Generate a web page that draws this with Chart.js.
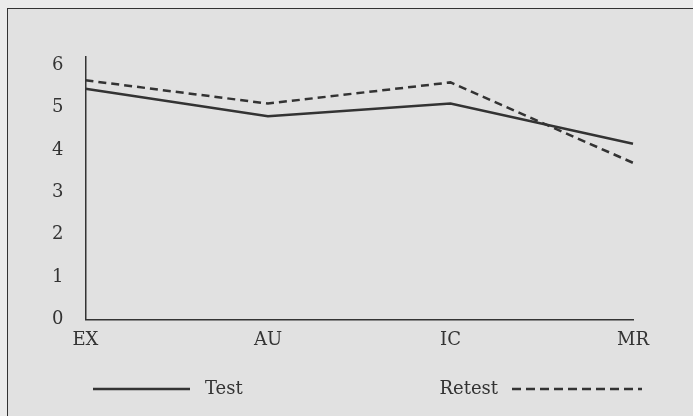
<!DOCTYPE html>
<html>
<head>
<meta charset="utf-8">
<script src="https://cdn.jsdelivr.net/npm/chart.js@4"></script>
<style>
    html, body { margin: 0; padding: 0; background: #ebebeb; }
    #frame {
        position: absolute; left: 7px; top: 8px; width: 700px; height: 420px;
        border-left: 1.5px solid #333; border-top: 1.5px solid #333;
        background: #e1e1e1;
    }
    #wrap { position: absolute; left: 0; top: 0; width: 693px; height: 416px; }
</style>
</head>
<body>
<div id="frame"></div>
<div id="wrap"><canvas id="line-chart"></canvas></div>
<script>
// Dữ liệu
const categories = ['EX', 'AU', 'IC', 'MR'];
const testValues = [5.45, 4.8, 5.1, 4.15];
const retestValues = [5.65, 5.1, 5.6, 3.7];
const yTicks = [0, 1, 2, 3, 4, 5, 6];

const ink = '#333333';
const fontFamily = '"DejaVu Serif", "Liberation Serif", serif';

// Chú thích tự vẽ: "Test" bên phải đường liền, "Retest" bên trái đường nét đứt
const customLegend = {
    id: 'customLegend',
    afterDraw(chart) {
        const ctx = chart.ctx;
        const y = 389;
        const sets = chart.data.datasets;
        ctx.save();
        ctx.font = '18px ' + fontFamily;
        ctx.fillStyle = ink;
        ctx.textBaseline = 'middle';

        // Test
        ctx.strokeStyle = sets[0].borderColor;
        ctx.lineWidth = sets[0].borderWidth;
        ctx.setLineDash([]);
        ctx.beginPath();
        ctx.moveTo(93, y);
        ctx.lineTo(190, y);
        ctx.stroke();
        ctx.textAlign = 'left';
        ctx.fillText(sets[0].label, 205, y);

        // Retest
        ctx.textAlign = 'right';
        ctx.fillText(sets[1].label, 498, y);
        ctx.strokeStyle = sets[1].borderColor;
        ctx.lineWidth = sets[1].borderWidth;
        ctx.setLineDash([9, 5]);
        ctx.beginPath();
        ctx.moveTo(512, y);
        ctx.lineTo(642, y);
        ctx.stroke();
        ctx.restore();
    }
};

const ctx = document.getElementById('line-chart').getContext('2d');
new Chart(ctx, {
    type: 'line',
    data: {
        labels: categories,
        datasets: [
            {
                label: 'Test',
                data: testValues,
                borderColor: ink,
                borderWidth: 2.5,
                pointRadius: 0,
                tension: 0,
                fill: false
            },
            {
                label: 'Retest',
                data: retestValues,
                borderColor: ink,
                borderWidth: 2.5,
                borderDash: [8, 5],
                pointRadius: 0,
                tension: 0,
                fill: false
            }
        ]
    },
    options: {
        responsive: true,
        maintainAspectRatio: false,
        animation: false,
        layout: { padding: { top: 57, left: 30, right: 60, bottom: 55 } },
        plugins: {
            legend: { display: false },
            tooltip: { enabled: false }
        },
        scales: {
            x: {
                type: 'category',
                offset: false,
                grid: { display: false, drawTicks: false },
                border: { display: true, color: ink, width: 1.5 },
                ticks: {
                    color: ink,
                    font: { family: fontFamily, size: 18 },
                    padding: 10,
                    maxRotation: 0
                }
            },
            y: {
                min: 0,
                max: 6.2,
                grid: { display: false, drawTicks: false },
                border: { display: true, color: ink, width: 1.5 },
                afterBuildTicks(axis) {
                    axis.ticks = yTicks.map(v => ({ value: v }));
                },
                ticks: {
                    color: ink,
                    font: { family: fontFamily, size: 18 },
                    padding: 22
                }
            }
        }
    },
    plugins: [customLegend]
});
</script>
</body>
</html>
